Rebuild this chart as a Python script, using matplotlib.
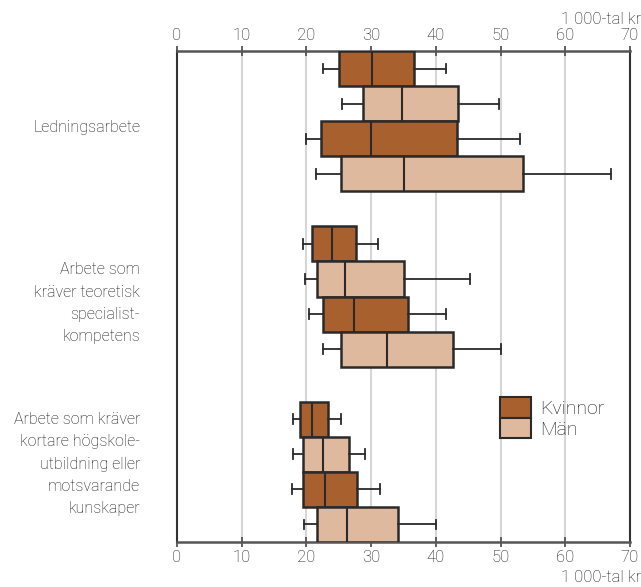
import matplotlib
matplotlib.use("Agg")
import matplotlib.pyplot as plt
from matplotlib.patches import Patch

plt.rcParams['font.family'] = ['Roboto', 'DejaVu Sans']
plt.rcParams['font.weight'] = 'light'

categories = [
    "Ledningsarbete",
    "Arbete som\nkräver teoretisk\nspecialist-\nkompetens",
    "Arbete som kräver\nkortare högskole-\nutbildning eller\nmotsvarande\nkunskaper",
]
series = ["Kvinnor", "Män", "Kvinnor", "Män"]

# per box, top to bottom: low whisker, q1, median, q3, high whisker
whislo = [22.5, 25.5, 19.9, 21.5,
          19.4, 19.8, 20.4, 22.5,
          17.9, 18.0, 17.8, 19.6]
q1 = [25.1, 28.7, 22.2, 25.3,
      20.9, 21.6, 22.5, 25.3,
      19.0, 19.5, 19.4, 21.7]
med = [30.1, 34.8, 30.0, 35.0,
       23.9, 25.9, 27.4, 32.4,
       20.8, 22.5, 22.9, 26.3]
q3 = [36.6, 43.4, 43.3, 53.4,
      27.7, 35.0, 35.7, 42.7,
      23.3, 26.6, 27.8, 34.2]
whishi = [41.5, 49.8, 53.0, 67.0,
          31.0, 45.3, 41.6, 50.1,
          25.3, 29.1, 31.3, 40.0]

colors = {"Kvinnor": "#a9602f", "Män": "#dfb99e"}
edge = "#2a2a2a"
txt = "#151515"

fig = plt.figure(figsize=(6.41, 5.87), dpi=100)
ax = fig.add_axes([177 / 641, 1 - 542 / 587, 453 / 641, 491 / 587])

stats, positions, facecols = [], [], []
for g in range(len(categories)):
    for s in range(len(series)):
        i = g * len(series) + s
        stats.append(dict(whislo=whislo[i], q1=q1[i], med=med[i], q3=q3[i],
                          whishi=whishi[i], fliers=[]))
        positions.append(g * (len(series) + 1) + s + 0.5)
        facecols.append(colors[series[s]])

bp = ax.bxp(stats, positions=positions, widths=1.0, orientation='horizontal',
            patch_artist=True, showfliers=False, capwidths=0.28,
            manage_ticks=False,
            boxprops=dict(edgecolor=edge, linewidth=1.8),
            medianprops=dict(color=edge, linewidth=1.5),
            whiskerprops=dict(color=edge, linewidth=1.3),
            capprops=dict(color=edge, linewidth=1.3), zorder=3)
for box, c in zip(bp['boxes'], facecols):
    box.set_facecolor(c)

ax.set_xlim(0, 70)
ax.set_ylim(len(categories) * (len(series) + 1) - 1, 0)
ax.set_xticks(range(0, 71, 10))
ax.set_yticks([])
ax.tick_params(axis='x', top=True, labeltop=True, bottom=True, labelbottom=True,
               direction='inout', length=7, width=1.3, color='#555555',
               labelsize=12, labelcolor=txt, pad=2)
for x in range(10, 70, 10):
    ax.axvline(x, color='#d6d6d6', linewidth=1.5, zorder=0)
for side in ['top', 'bottom']:
    ax.spines[side].set_color('#555555')
    ax.spines[side].set_linewidth(1.8)
for side in ['left', 'right']:
    ax.spines[side].set_color('#333333')
    ax.spines[side].set_linewidth(1.5)

# vertical placement of the category labels (slot units)
label_y = [2.17, 7.19, 11.78]
for label, y in zip(categories, label_y):
    ax.text(-5.7, y, label, ha='right', va='center', multialignment='right',
            fontsize=11.5, color=txt, linespacing=1.6)

fig.text(641 / 641, 1 - 19 / 587, "1 000-tal kr", ha='right', va='center',
         fontsize=12, color=txt)
fig.text(641 / 641, 1 - 578 / 587, "1 000-tal kr", ha='right', va='center',
         fontsize=12, color=txt)

handles = [Patch(facecolor=colors[k], edgecolor=edge, linewidth=1.5)
           for k in ["Kvinnor", "Män"]]
ax.legend(handles, ["Kvinnor", "Män"], loc='upper left',
          bbox_to_anchor=((500 - 177) / 453, 1 - (397 - 51) / 491),
          frameon=False, fontsize=14, handlelength=1.6, handleheight=1.25,
          labelspacing=0.0, borderpad=0, borderaxespad=0, handletextpad=0.45,
          labelcolor=txt)

fig.savefig("out.png", dpi=100)
